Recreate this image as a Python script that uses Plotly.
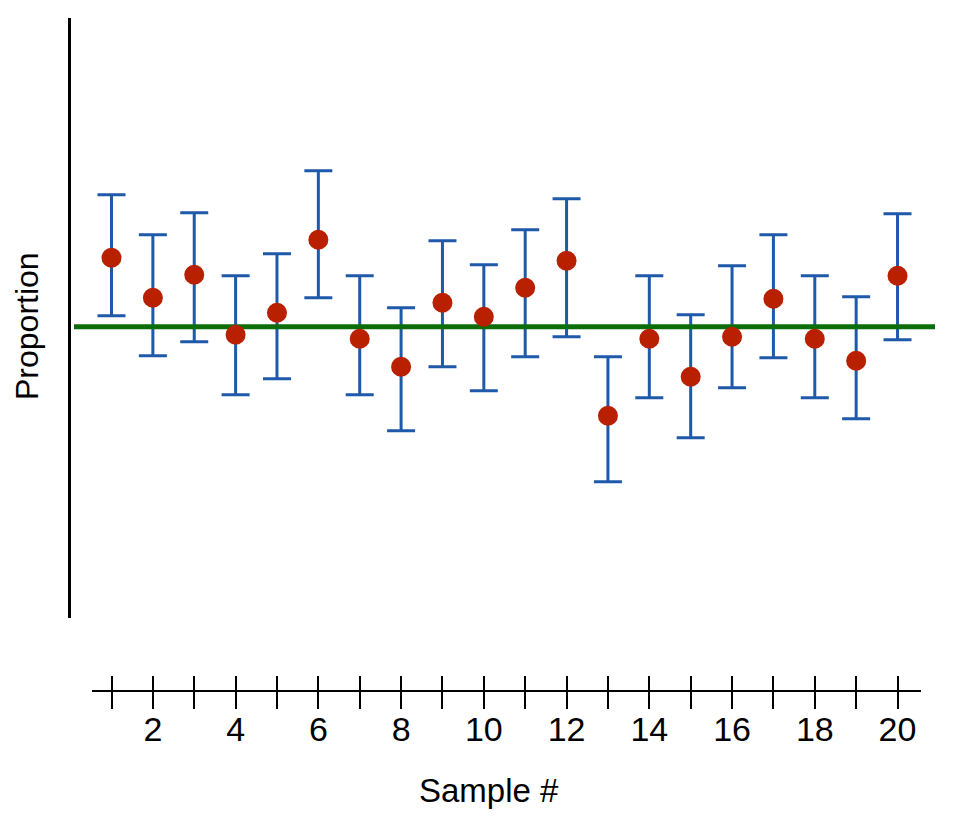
import plotly.graph_objects as go

# ---------------- data ----------------
samples = list(range(1, 21))
p_hat = [0.569, 0.529, 0.552, 0.492, 0.514, 0.587, 0.488, 0.460, 0.524, 0.510,
         0.539, 0.566, 0.411, 0.488, 0.450, 0.490, 0.528, 0.488, 0.466, 0.551]
ci_upper = [0.632, 0.592, 0.614, 0.551, 0.573, 0.656, 0.551, 0.519, 0.586, 0.562,
            0.597, 0.628, 0.470, 0.551, 0.512, 0.561, 0.592, 0.551, 0.530, 0.613]
ci_lower = [0.511, 0.471, 0.485, 0.432, 0.448, 0.529, 0.432, 0.396, 0.460, 0.436,
            0.470, 0.490, 0.345, 0.429, 0.389, 0.439, 0.469, 0.429, 0.408, 0.487]
p_true = 0.5
tick_vals = samples
tick_text = [str(s) if s % 2 == 0 else "" for s in samples]
x_title = "Sample #"
y_title = "Proportion"

# ---------------- geometry ----------------
OFF = 8                      # page body margin
FIG_W, FIG_H = 966 - OFF, 830 - OFF
ML, MR, MT, MB = 69 - OFF, 39 - OFF, 18 - OFF, 147 - OFF
PW = FIG_W - ML - MR
PH = FIG_H - MT - MB

px_per_unit = 41.37
x0_px = 111.5 - OFF          # pixel of sample 1


def x_at(p):
    return 1 + (p - x0_px) / px_per_unit


y_px_ref, y_scale = 326.7 - OFF, 1000.0


def y_at(p):
    return p_true + (y_px_ref - p) / y_scale


def px_x(p):
    return (p - OFF - ML) / PW


def px_y(p):
    return (FIG_H - MB - (p - OFF)) / PH


data_dom = [(74 - OFF - ML) / PW, 1.0]
data_rng = [x_at(74 - OFF), x_at(ML + PW)]
axis_left, axis_right = 91.7 - OFF, 920.7 - OFF
ax_dom = [(axis_left - ML) / PW, (axis_right - ML) / PW]
ax_rng = [x_at(axis_left), x_at(axis_right)]
y_bottom_px = 618 - OFF
y_dom = [(MT + PH - y_bottom_px) / PH, 1.0]
y_rng = [y_at(y_bottom_px), y_at(MT)]

FONT = "Liberation Sans Narrow, Arial Narrow, Liberation Sans, Arial, sans-serif"
RED = "#b92000"
BLUE = "#1f5aaa"
GREEN = "#0b6e0b"

err_plus = [u - p for u, p in zip(ci_upper, p_hat)]
err_minus = [p - l for p, l in zip(p_hat, ci_lower)]

fig = go.Figure()

fig.add_trace(go.Scatter(
    x=samples, y=p_hat, mode="markers",
    marker=dict(size=20, color=RED, opacity=0),
    error_y=dict(type="data", symmetric=False, array=err_plus, arrayminus=err_minus,
                 color=BLUE, thickness=3, width=14),
    hoverinfo="skip", showlegend=False, xaxis="x", yaxis="y"))

fig.add_trace(go.Scatter(
    x=data_rng, y=[p_true, p_true], mode="lines",
    line=dict(color=GREEN, width=5), hoverinfo="skip", showlegend=False,
    xaxis="x", yaxis="y"))

fig.add_trace(go.Scatter(
    x=samples, y=p_hat, mode="markers",
    marker=dict(size=20, color=RED, line=dict(width=0)),
    showlegend=False, xaxis="x", yaxis="y"))

# dummy traces to register the tick axes
fig.add_trace(go.Scatter(x=[], y=[], xaxis="x2", yaxis="y", showlegend=False))
fig.add_trace(go.Scatter(x=[], y=[], xaxis="x3", yaxis="y", showlegend=False))

fig.update_layout(
    width=FIG_W, height=FIG_H,
    margin=dict(l=ML, r=MR, t=MT, b=MB, pad=0),
    paper_bgcolor="white", plot_bgcolor="rgba(0,0,0,0)",
    showlegend=False,
    font=dict(family=FONT, color="black"),
    xaxis=dict(domain=data_dom, range=data_rng, visible=False, fixedrange=True),
    xaxis2=dict(domain=ax_dom, range=ax_rng, anchor="free", position=0,
                showline=True, linecolor="black", linewidth=2,
                ticks="outside", ticklen=17, tickwidth=2, tickcolor="black",
                tickmode="array", tickvals=tick_vals, ticktext=tick_text,
                ticklabelstandoff=-9,
                tickfont=dict(size=34, family=FONT, color="black"),
                showgrid=False, zeroline=False, fixedrange=True),
    xaxis3=dict(overlaying="x2", range=ax_rng, anchor="free", position=0,
                showline=False, ticks="inside", ticklen=15, tickwidth=2,
                tickcolor="black", tickmode="array", tickvals=tick_vals,
                showticklabels=False, showgrid=False, zeroline=False,
                fixedrange=True),
    yaxis=dict(domain=y_dom, range=y_rng, anchor="free", position=0,
               showline=True, linecolor="black", linewidth=2.5,
               ticks="", showticklabels=False, showgrid=False, zeroline=False,
               fixedrange=True),
    annotations=[
        dict(text=x_title, xref="paper", yref="paper",
             x=px_x(489), y=px_y(790),
             xanchor="center", yanchor="middle", showarrow=False,
             font=dict(size=33, family=FONT, color="black")),
        dict(text=y_title, xref="paper", yref="paper",
             x=px_x(27), y=px_y(326), textangle=-90,
             xanchor="center", yanchor="middle", showarrow=False,
             font=dict(size=32, family=FONT, color="black")),
    ],
)

fig.write_html("out.html")
